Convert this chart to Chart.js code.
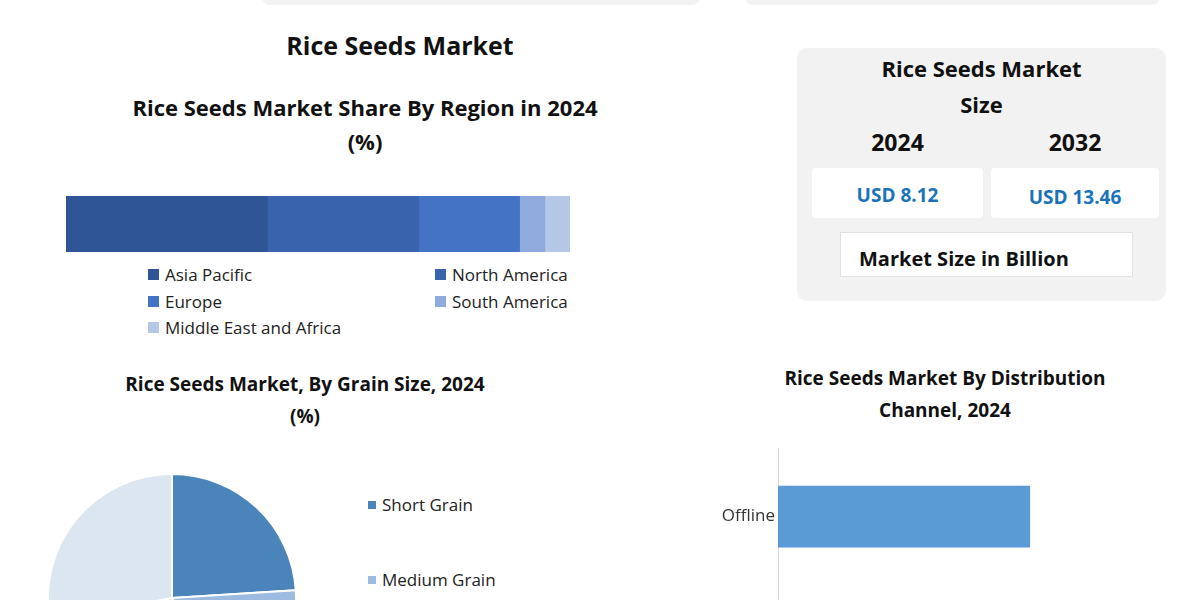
<!DOCTYPE html>
<html><head><meta charset="utf-8">
<script src="https://cdn.jsdelivr.net/npm/chart.js@4.4.1/dist/chart.umd.min.js"></script>
<style>
body{margin:0;width:1200px;height:600px;overflow:hidden;background:#fff;font-family:"Open Sans",sans-serif;position:relative}
.a{position:absolute}
.t{font-weight:bold;color:#111;text-align:center}
.lg{font-size:17px;color:#222;display:flex;align-items:center}
.lg i{display:inline-block;width:11px;height:11px;margin-right:6px}
</style></head><body>
<div class="a" style="left:262px;top:-20px;width:438px;height:25px;background:#f2f2f2;border-radius:8px"></div>
<div class="a" style="left:745px;top:-20px;width:415px;height:25px;background:#f2f2f2;border-radius:8px"></div>
<div class="a t" style="left:200px;top:28px;width:400px;font-size:25px">Rice Seeds Market</div>
<div class="a t" style="left:90px;top:90px;width:550px;font-size:22px;line-height:34px">Rice Seeds Market Share By Region in 2024<br>(%)</div>
<div class="a" style="left:66px;top:196px;width:504px;height:56px"><canvas id="reg"></canvas></div>
<div id="regLeg"></div>

<div class="a" style="left:797px;top:48px;width:369px;height:253px;background:#f2f2f2;border-radius:10px"></div>
<div class="a t" style="left:797px;top:50px;width:369px;font-size:22px;line-height:36px">Rice Seeds Market<br>Size</div>
<div class="a t" style="left:812px;top:126px;width:171px;font-size:23px">2024</div>
<div class="a t" style="left:991px;top:126px;width:168px;font-size:23px">2032</div>
<div class="a t" style="left:812px;top:168px;width:171px;height:50px;line-height:55px;background:#fff;color:#1a73b8;font-size:19px;border-radius:4px">USD 8.12</div>
<div class="a t" style="left:991px;top:168px;width:168px;height:50px;line-height:58px;background:#fff;color:#1a73b8;font-size:19px;border-radius:4px">USD 13.46</div>
<div class="a t" style="left:840px;top:232px;width:293px;height:45px;line-height:52px;background:#fff;border:1px solid #e2e2e2;font-size:20px;text-align:left;padding-left:18px;box-sizing:border-box">Market Size in Billion</div>

<div class="a t" style="left:60px;top:368px;width:490px;font-size:19px;line-height:32px">Rice Seeds Market, By Grain Size, 2024<br>(%)</div>
<div class="a" style="left:47px;top:473px;width:250px;height:250px"><canvas id="pie"></canvas></div>
<div class="a lg" style="left:368px;top:493px;font-family:'Liberation Sans Narrow','Open Sans',sans-serif"><i style="background:#4a84bb;width:8px;height:8px"></i>Short Grain</div>
<div class="a lg" style="left:368px;top:568px;font-family:'Liberation Sans Narrow','Open Sans',sans-serif"><i style="background:#9dbbe0;width:8px;height:8px"></i>Medium Grain</div>

<div class="a t" style="left:740px;top:362px;width:410px;font-size:19px;line-height:32px">Rice Seeds Market By Distribution<br>Channel, 2024</div>
<div class="a" style="left:680px;top:435px;width:480px;height:300px"><canvas id="dist"></canvas></div>
<script>
const regions=["Asia Pacific","North America","Europe","South America","Middle East and Africa"];
const regionShare=[40,30,20,5,5];
const regionColors=["#2f5597","#3a63ad","#4472c4","#8faadc","#b4c7e7"];
const grains=["Short Grain","Medium Grain","Long Grain","Others"];
const grainShare=[24,20,28,28];
const grainColors=["#4a84bb","#9dbbe0","#c5d7ec","#dce6f1"];
const channels=["Offline","Online"];
const channelShare=[66,34];

const pos=[[148,263],[435,263],[148,290],[435,290],[148,316]];
const leg=document.getElementById('regLeg');
regions.forEach((r,i)=>{const d=document.createElement('div');d.className='a lg';d.style.left=pos[i][0]+'px';d.style.top=pos[i][1]+'px';d.innerHTML='<i style="background:'+regionColors[i]+'"></i>'+r;leg.appendChild(d);});

new Chart(document.getElementById('reg'),{type:'bar',
data:{labels:[''],datasets:regions.map((r,i)=>({label:r,data:[regionShare[i]],backgroundColor:regionColors[i],barPercentage:1,categoryPercentage:1}))},
options:{indexAxis:'y',responsive:true,maintainAspectRatio:false,animation:false,layout:{padding:0},
plugins:{legend:{display:false},tooltip:{enabled:false}},
scales:{x:{stacked:true,display:false,min:0,max:100},y:{stacked:true,display:false}}}});

new Chart(document.getElementById('pie'),{type:'pie',
data:{labels:grains,datasets:[{data:grainShare,backgroundColor:grainColors,borderColor:'#fff',borderWidth:2}]},
options:{responsive:true,maintainAspectRatio:false,animation:false,layout:{padding:0},plugins:{legend:{display:false},tooltip:{enabled:false}}}});

new Chart(document.getElementById('dist'),{type:'bar',
data:{labels:channels,datasets:[{data:channelShare,backgroundColor:'#5b9bd5',barPercentage:0.45,categoryPercentage:1}]},
options:{indexAxis:'y',responsive:true,maintainAspectRatio:false,animation:false,layout:{padding:0},
plugins:{legend:{display:false},tooltip:{enabled:false}},
scales:{x:{display:false,min:0,max:100},
y:{afterFit:s=>{s.width=98},grid:{display:false,tickLength:0},border:{color:'#d9d9d9'},
ticks:{color:'#333',font:{family:"Liberation Sans Narrow, Open Sans",size:17}}}}}});
</script>
</body></html>
